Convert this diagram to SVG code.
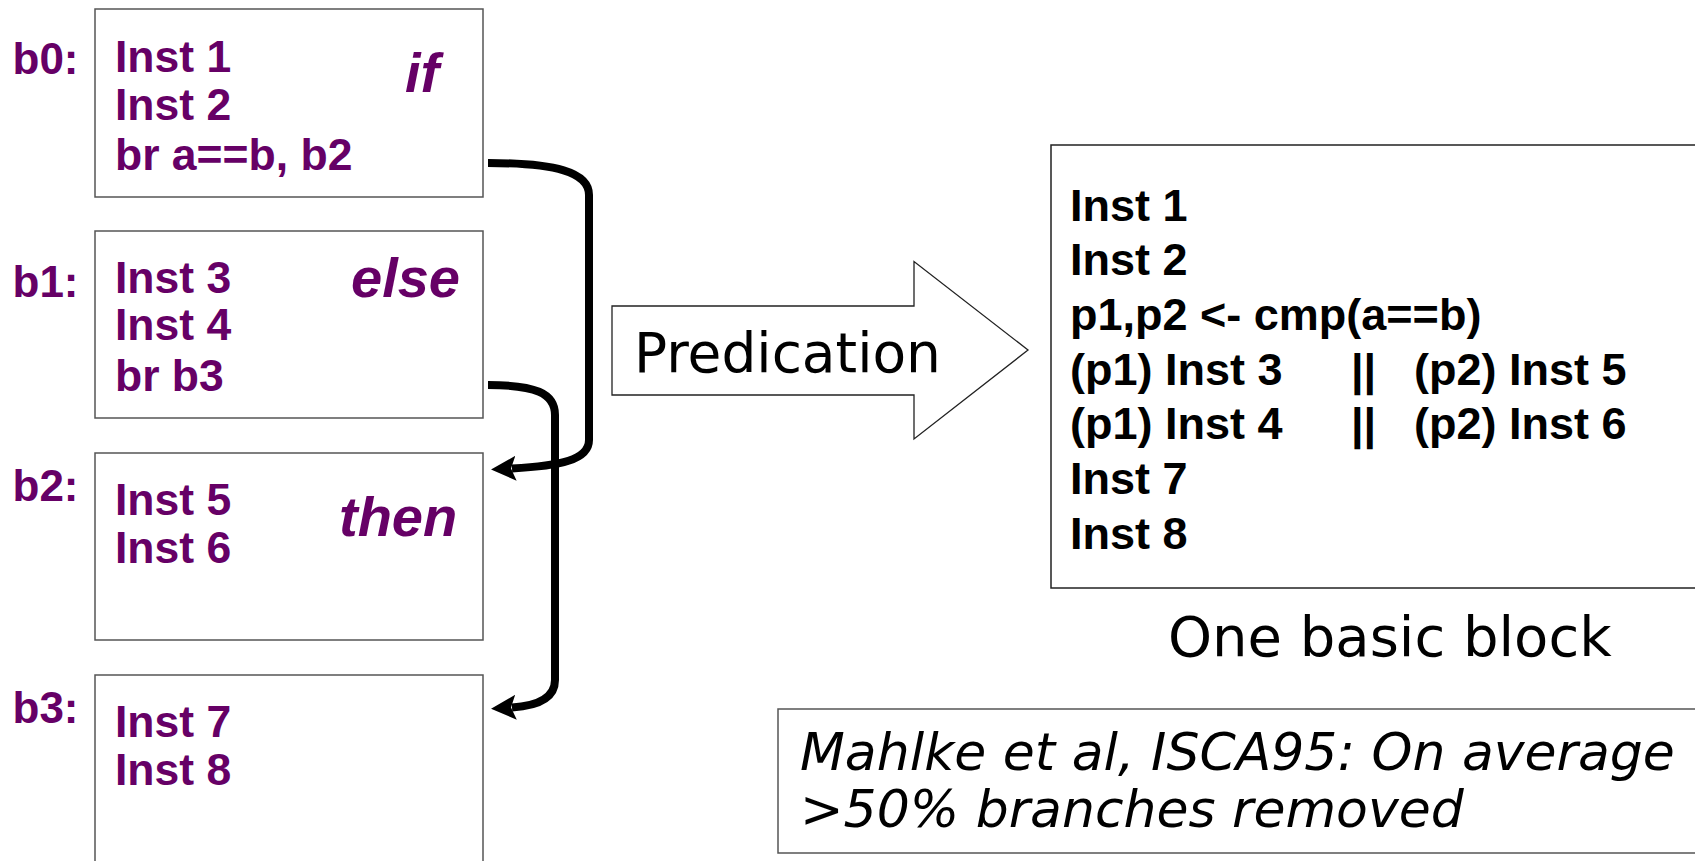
<svg xmlns="http://www.w3.org/2000/svg" width="1695" height="861" viewBox="0 0 1695 861">
<style>
.box{fill:#fff;stroke:#555;stroke-width:1.5}
.bb{fill:#fff;stroke:#222;stroke-width:1.5}
.code{font-family:"Liberation Sans",Arial,sans-serif;font-weight:bold;font-size:44.5px;fill:#660066}
.lab{font-family:"Liberation Sans",Arial,sans-serif;font-weight:bold;font-size:44px;fill:#660066}
.kw{font-family:"Liberation Sans",Arial,sans-serif;font-weight:bold;font-style:italic;font-size:56px;fill:#660066}
.blk{font-family:"Liberation Sans",Arial,sans-serif;font-weight:bold;font-size:45px;fill:#000}
.dv{font-family:"DejaVu Sans",Verdana,sans-serif;fill:#000}
.conn{fill:none;stroke:#000;stroke-width:8}
</style>
<defs>
<marker id="ah" markerUnits="userSpaceOnUse" markerWidth="30" markerHeight="30" refX="4" refY="12.5" orient="auto" viewBox="0 0 30 30">
<path d="M0,0 L25,12.5 L0,25 L5,12.5 z" fill="#000"/>
</marker>
</defs>
<rect width="1695" height="861" fill="#fff"/>

<g id="b0">
<rect class="box" x="95" y="9" width="388" height="188"/>
<text class="lab" x="12.5" y="74">b0:</text>
<text class="code" x="115" y="72">Inst 1</text>
<text class="code" x="115" y="120">Inst 2</text>
<text class="code" x="115" y="170">br a==b, b2</text>
<text class="kw" x="405" y="92">if</text>
</g>

<g id="b1">
<rect class="box" x="95" y="231" width="388" height="187"/>
<text class="lab" x="12.5" y="297">b1:</text>
<text class="code" x="115" y="293">Inst 3</text>
<text class="code" x="115" y="340">Inst 4</text>
<text class="code" x="115" y="391">br b3</text>
<text class="kw" x="351" y="297">else</text>
</g>

<g id="b2">
<rect class="box" x="95" y="453" width="388" height="187"/>
<text class="lab" x="12.5" y="501">b2:</text>
<text class="code" x="115" y="515">Inst 5</text>
<text class="code" x="115" y="563">Inst 6</text>
<text class="kw" x="339" y="536">then</text>
</g>

<g id="b3">
<rect class="box" x="95" y="675" width="388" height="200"/>
<text class="lab" x="12.5" y="723">b3:</text>
<text class="code" x="115" y="737">Inst 7</text>
<text class="code" x="115" y="785">Inst 8</text>
</g>

<g id="connectors">
<path class="conn" d="M488,163 C555,163 589,172 589,195 L589,440 C589,460 560,466 512,468.5" marker-end="url(#ah)"/>
<path class="conn" d="M488,385 C535,385 555,393 555,415 L555,680 C555,700 535,706 512,707.5" marker-end="url(#ah)"/>
</g>

<g id="predication">
<polygon points="612,306 914,306 914,261.5 1028,350 914,439 914,395 612,395" fill="#fff" stroke="#222" stroke-width="1.3"/>
<text class="dv" x="634" y="372" font-size="55">Predication</text>
</g>

<g id="onebb">
<rect class="bb" x="1051" y="145" width="700" height="443"/>
<text class="blk" x="1070" y="221">Inst 1</text>
<text class="blk" x="1070" y="275">Inst 2</text>
<text class="blk" x="1070" y="330">p1,p2 &lt;- cmp(a==b)</text>
<text class="blk" x="1070" y="385">(p1) Inst 3</text>
<text class="blk" x="1351" y="385">||</text>
<text class="blk" x="1414" y="385">(p2) Inst 5</text>
<text class="blk" x="1070" y="439">(p1) Inst 4</text>
<text class="blk" x="1351" y="439">||</text>
<text class="blk" x="1414" y="439">(p2) Inst 6</text>
<text class="blk" x="1070" y="494">Inst 7</text>
<text class="blk" x="1070" y="549">Inst 8</text>
<text class="dv" x="1168" y="656" font-size="56">One basic block</text>
</g>

<g id="note">
<rect class="box" x="778" y="709" width="950" height="144"/>
<text class="dv" x="800" y="770" font-size="52" font-style="italic">Mahlke et al, ISCA95: On average</text>
<text class="dv" x="800" y="827" font-size="52" font-style="italic">&gt;50% branches removed</text>
</g>
</svg>
